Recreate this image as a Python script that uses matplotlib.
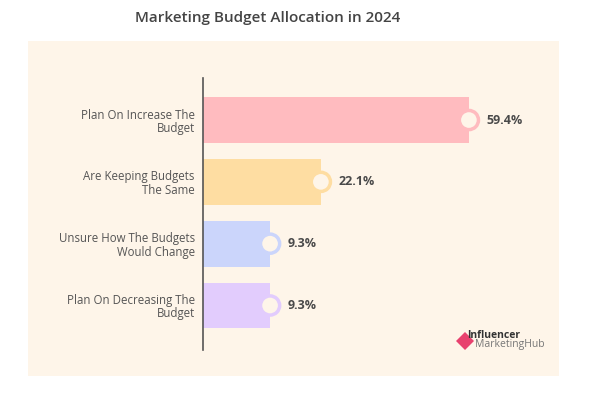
import matplotlib.pyplot as plt
from matplotlib.patches import Rectangle, Polygon

categories = ['Plan On Increase The\nBudget', 'Are Keeping Budgets\nThe Same',
              'Unsure How The Budgets\nWould Change', 'Plan On Decreasing The\nBudget']
values = [59.4, 22.1, 9.3, 9.3]
labels = ['59.4%', '22.1%', '9.3%', '9.3%']
colors = ['#FFBBBF', '#FEDDA2', '#CBD5FB', '#E2CCFD']

bg = '#FEF5E9'
W, H = 589, 394
fig = plt.figure(figsize=(W / 100, H / 100), dpi=100)
fig.patch.set_facecolor('white')

# cream panel
fig.patches.append(Rectangle((28 / W, 1 - 376 / H), (559 - 28) / W, (376 - 41) / H,
                             transform=fig.transFigure, facecolor=bg, edgecolor='none', zorder=-10))

fig.text(268 / W, 1 - 18 / H, 'Marketing Budget Allocation in 2024', ha='center', va='center',
         fontsize=11, fontweight='semibold', color='#444444', family='Open Sans')

ax = fig.add_axes([203 / W, 1 - 350 / H, (559 - 203) / W, (350 - 78) / H])
ax.set_zorder(5)
ax.set_facecolor('none')
x0 = -7.6
ypos = range(len(values))
ax.barh(ypos, [v - x0 for v in values], left=x0, height=0.74, color=colors, zorder=2)
ax.scatter(values, ypos, s=190, facecolor=bg, edgecolor=colors, linewidths=2.5, zorder=3)
for y, v, t in zip(ypos, values, labels):
    ax.text(v + 4.4, y, t, va='center', ha='left', fontsize=9, fontweight='bold',
            color='#4a4a4a', family='Open Sans')

ax.set_xlim(x0, 82.1)
ax.set_ylim(3.72, -0.68)
ax.set_yticks(list(ypos))
ax.set_yticklabels(categories, fontsize=8.3, color='#555555', family='Open Sans',
                   linespacing=1.05)
ax.tick_params(axis='y', length=0, pad=6)
ax.set_xticks([])
for s in ['top', 'right', 'bottom']:
    ax.spines[s].set_visible(False)
ax.spines['left'].set_color('#555555')
ax.spines['left'].set_linewidth(1.2)

# logo
fig.patches.append(Polygon([(456 / W, 1 - 341 / H), (465 / W, 1 - 332 / H), (474 / W, 1 - 341 / H),
                            (465 / W, 1 - 350 / H)], closed=True, transform=fig.transFigure,
                           facecolor='#E8416E', edgecolor='none', zorder=-5))
fig.text(467 / W, 1 - 335 / H, 'Influencer', fontsize=7.5, fontweight='bold', color='#333333',
         va='center', ha='left', family='Open Sans')
fig.text(475 / W, 1 - 345 / H, 'MarketingHub', fontsize=7.5, color='#777777',
         va='center', ha='left', family='Open Sans')

fig.savefig('out.png', dpi=100, facecolor='white')
